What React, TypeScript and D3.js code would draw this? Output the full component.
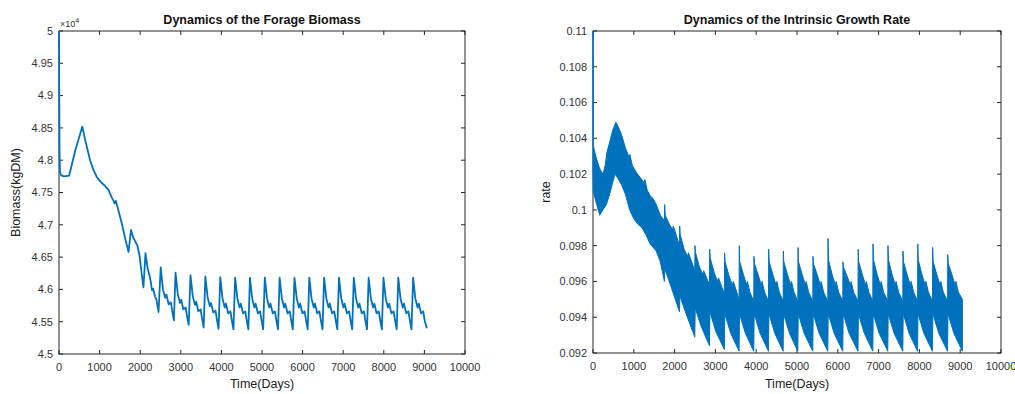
import * as d3 from "d3";

const width = 1015;
const height = 394;
const font = "'Liberation Sans', Arial, Helvetica, sans-serif";
const lineColor = "#0072BD";
const axisColor = "#262626";

// tick labels
const dayTicks = [0, 1000, 2000, 3000, 4000, 5000, 6000, 7000, 8000, 9000, 10000];
const biomassTicks = [4.5, 4.55, 4.6, 4.65, 4.7, 4.75, 4.8, 4.85, 4.9, 4.95, 5];
const rateTicks = [0.092, 0.094, 0.096, 0.098, 0.1, 0.102, 0.104, 0.106, 0.108, 0.11];

// forage biomass (x10^4 kgDM), [day, value]
const biomass: [number, number][] = [
  [0, 5.0], [6, 4.9], [14, 4.81], [25, 4.782], [45, 4.777], [120, 4.775], [250, 4.776],
  [400, 4.815], [575, 4.852], [650, 4.83], [765, 4.8], [850, 4.785], [930, 4.774],
  [1030, 4.766], [1136, 4.76], [1218, 4.754], [1300, 4.742], [1345, 4.737], [1370, 4.733],
  [1400, 4.737], [1440, 4.728], [1547, 4.702], [1640, 4.676], [1712, 4.658], [1775, 4.692],
  [1830, 4.68], [1880, 4.674], [1930, 4.668], [1985, 4.652], [2035, 4.625], [2080, 4.603], [2130, 4.656],
  [2185, 4.632], [2235, 4.62], [2265, 4.61], [2290, 4.599], [2320, 4.601], [2365, 4.589], [2400, 4.584], [2452, 4.565], [2505, 4.634],
  [2560, 4.6], [2615, 4.587], [2645, 4.592], [2700, 4.577], [2755, 4.58], [2790, 4.566], [2830, 4.552], [2870, 4.626],
  [2925, 4.593], [2980, 4.579], [3010, 4.584], [3065, 4.569], [3120, 4.572], [3155, 4.558], [3195, 4.545], [3238, 4.622],
  [3293, 4.59], [3348, 4.576], [3378, 4.581], [3433, 4.566], [3488, 4.569], [3523, 4.555], [3563, 4.541], [3605, 4.62],
  [3660, 4.588], [3715, 4.574], [3745, 4.579], [3800, 4.564], [3855, 4.567], [3890, 4.553], [3930, 4.539], [3972, 4.619],
  [4027, 4.586], [4082, 4.572], [4112, 4.578], [4167, 4.563], [4222, 4.566], [4257, 4.552], [4297, 4.538], [4338, 4.618],
  [4393, 4.586], [4448, 4.572], [4478, 4.578], [4533, 4.563], [4588, 4.566], [4623, 4.552], [4663, 4.538], [4703, 4.618],
  [4758, 4.586], [4813, 4.572], [4843, 4.578], [4898, 4.563], [4953, 4.566], [4988, 4.552], [5028, 4.538], [5069, 4.618],
  [5124, 4.586], [5179, 4.572], [5209, 4.578], [5264, 4.563], [5319, 4.566], [5354, 4.552], [5394, 4.538], [5434, 4.618],
  [5489, 4.586], [5544, 4.572], [5574, 4.578], [5629, 4.563], [5684, 4.566], [5719, 4.552], [5759, 4.538], [5800, 4.618],
  [5855, 4.586], [5910, 4.572], [5940, 4.578], [5995, 4.563], [6050, 4.566], [6085, 4.552], [6125, 4.538], [6165, 4.618],
  [6220, 4.586], [6275, 4.572], [6305, 4.578], [6360, 4.563], [6415, 4.566], [6450, 4.552], [6490, 4.538], [6530, 4.618],
  [6585, 4.586], [6640, 4.572], [6670, 4.578], [6725, 4.563], [6780, 4.566], [6815, 4.552], [6855, 4.538], [6896, 4.618],
  [6951, 4.586], [7006, 4.572], [7036, 4.578], [7091, 4.563], [7146, 4.566], [7181, 4.552], [7221, 4.538], [7261, 4.618],
  [7316, 4.586], [7371, 4.572], [7401, 4.578], [7456, 4.563], [7511, 4.566], [7546, 4.552], [7586, 4.538], [7627, 4.618],
  [7682, 4.586], [7737, 4.572], [7767, 4.578], [7822, 4.563], [7877, 4.566], [7912, 4.552], [7952, 4.538], [7992, 4.618],
  [8047, 4.586], [8102, 4.572], [8132, 4.578], [8187, 4.563], [8242, 4.566], [8277, 4.552], [8317, 4.538], [8357, 4.618],
  [8412, 4.586], [8467, 4.572], [8497, 4.578], [8552, 4.563], [8607, 4.566], [8642, 4.552], [8682, 4.538], [8722, 4.618],
  [8777, 4.586], [8832, 4.572], [8862, 4.578], [8917, 4.563], [8972, 4.566], [9007, 4.552], [9060, 4.54],
];

// intrinsic growth rate: upper edge of the oscillating band, [day, value]
const rateUpper: [number, number][] = [
  [0, 0.11], [5, 0.1036], [80, 0.1029], [165, 0.1023], [245, 0.102], [300, 0.1025], [340, 0.1032],
  [410, 0.1038], [490, 0.1045], [560, 0.1049], [610, 0.1047], [700, 0.1042], [790, 0.1035],
  [890, 0.1029], [905, 0.1031], [960, 0.1025], [1060, 0.1021], [1160, 0.1018], [1260, 0.1015],
  [1270, 0.1017], [1330, 0.1011], [1400, 0.1008], [1480, 0.1006], [1550, 0.1003], [1650, 0.0997], [1750, 0.0994],
  [1757, 0.1003], [1770, 0.0997], [1870, 0.0992], [1950, 0.0989], [1970, 0.0991], [2120, 0.098],
  [2125, 0.0991], [2138, 0.0986], [2235, 0.0978], [2315, 0.0974], [2340, 0.0976], [2495, 0.0966],
  [2500, 0.098], [2513, 0.0976], [2610, 0.0968], [2690, 0.0964], [2715, 0.0966], [2855, 0.0958],
  [2860, 0.0978], [2873, 0.0973], [2970, 0.0965], [3050, 0.096], [3075, 0.0962], [3220, 0.0953],
  [3225, 0.0976], [3238, 0.0971], [3335, 0.0963], [3415, 0.0958], [3440, 0.096], [3580, 0.095],
  [3585, 0.098], [3597, 0.0971], [3685, 0.0964], [3765, 0.0958], [3785, 0.096], [3845, 0.0954], [3940, 0.0949],
  [3945, 0.0974], [3957, 0.097], [4045, 0.0964], [4125, 0.0958], [4145, 0.096], [4205, 0.0954], [4301, 0.0949],
  [4306, 0.0978], [4318, 0.0971], [4406, 0.0964], [4486, 0.0958], [4506, 0.096], [4566, 0.0954], [4660, 0.0949],
  [4665, 0.0977], [4677, 0.0971], [4765, 0.0964], [4845, 0.0958], [4865, 0.096], [4925, 0.0954], [5020, 0.0949],
  [5025, 0.0979], [5037, 0.0971], [5125, 0.0964], [5205, 0.0958], [5225, 0.096], [5285, 0.0954], [5387, 0.0949],
  [5392, 0.0974], [5404, 0.097], [5492, 0.0964], [5572, 0.0958], [5592, 0.096], [5652, 0.0954], [5755, 0.0949],
  [5760, 0.0984], [5772, 0.0972], [5860, 0.0964], [5940, 0.0958], [5960, 0.096], [6020, 0.0954], [6122, 0.0949],
  [6127, 0.0971], [6139, 0.0968], [6227, 0.0963], [6307, 0.0958], [6327, 0.096], [6387, 0.0954], [6495, 0.0949],
  [6500, 0.0978], [6512, 0.0971], [6600, 0.0964], [6680, 0.0958], [6700, 0.096], [6760, 0.0954], [6858, 0.0949],
  [6863, 0.0981], [6875, 0.0972], [6963, 0.0964], [7043, 0.0958], [7063, 0.096], [7123, 0.0954], [7225, 0.0949],
  [7230, 0.098], [7242, 0.0972], [7330, 0.0964], [7410, 0.0958], [7430, 0.096], [7490, 0.0954], [7593, 0.0949],
  [7598, 0.0977], [7610, 0.0971], [7698, 0.0964], [7778, 0.0958], [7798, 0.096], [7858, 0.0954], [7955, 0.0949],
  [7960, 0.0981], [7972, 0.0972], [8060, 0.0964], [8140, 0.0958], [8160, 0.096], [8220, 0.0954], [8320, 0.0949],
  [8325, 0.0979], [8337, 0.0971], [8425, 0.0964], [8505, 0.0958], [8525, 0.096], [8585, 0.0954], [8690, 0.0949],
  [8695, 0.0975], [8707, 0.097], [8795, 0.0964], [8875, 0.0958], [8895, 0.096], [8955, 0.0954], [9054, 0.095],
];

// intrinsic growth rate: lower edge of the oscillating band, [day, value]
const rateLower: [number, number][] = [
  [0, 0.102], [10, 0.101], [80, 0.1004], [165, 0.0997], [240, 0.1], [330, 0.1003], [410, 0.1009],
  [490, 0.1016], [540, 0.102], [600, 0.1018], [700, 0.1014], [790, 0.1009], [900, 0.1], [1000, 0.0995],
  [1100, 0.0992], [1200, 0.099], [1300, 0.0986], [1400, 0.0981], [1550, 0.0977], [1650, 0.0971], [1750, 0.096],
  [1762, 0.0967], [1900, 0.0958], [2120, 0.0943],
  [2130, 0.0952], [2280, 0.0942], [2495, 0.0929],
  [2505, 0.0945], [2650, 0.0935], [2855, 0.0924],
  [2865, 0.0943], [3010, 0.0932], [3220, 0.0922],
  [3230, 0.0942], [3375, 0.0931], [3580, 0.0921],
  [3590, 0.0942], [3735, 0.0931], [3940, 0.0921],
  [3950, 0.0942], [4095, 0.0931], [4301, 0.0921],
  [4311, 0.0942], [4456, 0.0931], [4660, 0.0921],
  [4670, 0.0942], [4815, 0.0931], [5020, 0.0921],
  [5030, 0.0942], [5175, 0.0931], [5387, 0.0921],
  [5397, 0.0942], [5542, 0.0931], [5755, 0.0921],
  [5765, 0.0942], [5910, 0.0931], [6122, 0.0921],
  [6132, 0.0942], [6277, 0.0931], [6495, 0.0921],
  [6505, 0.0942], [6650, 0.0931], [6858, 0.0921],
  [6868, 0.0942], [7013, 0.0931], [7225, 0.0921],
  [7235, 0.0942], [7380, 0.0931], [7593, 0.0921],
  [7603, 0.0942], [7748, 0.0931], [7955, 0.0921],
  [7965, 0.0942], [8110, 0.0931], [8320, 0.0921],
  [8330, 0.0942], [8475, 0.0931], [8690, 0.0921],
  [8700, 0.0942], [8845, 0.0931], [9054, 0.0921],
];

type Box = { left: number; right: number; top: number; bottom: number };

const leftBox: Box = { left: 59, right: 465, top: 31, bottom: 354 };
const rightBox: Box = { left: 593, right: 1001, top: 31, bottom: 353 };

const fmt = (d: number) => String(+d.toFixed(3));

function Frame({
  box,
  x,
  y,
  yTicks,
  title,
  yLabel,
  yLabelX,
}: {
  box: Box;
  x: d3.ScaleLinear<number, number>;
  y: d3.ScaleLinear<number, number>;
  yTicks: number[];
  title: string;
  yLabel: string;
  yLabelX: number;
}) {
  const tick = 4;
  const cx = (box.left + box.right) / 2;
  return (
    <g fontFamily={font}>
      <rect
        x={box.left}
        y={box.top}
        width={box.right - box.left}
        height={box.bottom - box.top}
        fill="none"
        stroke={axisColor}
        strokeWidth={1}
      />
      {dayTicks.map((d) => (
        <g key={"x" + d}>
          <line x1={x(d)} x2={x(d)} y1={box.bottom} y2={box.bottom - tick} stroke={axisColor} />
          <line x1={x(d)} x2={x(d)} y1={box.top} y2={box.top + tick} stroke={axisColor} />
          <text x={x(d)} y={box.bottom + 17} textAnchor="middle" fontSize={11} fill="#333">
            {d}
          </text>
        </g>
      ))}
      {yTicks.map((d) => (
        <g key={"y" + d}>
          <line x1={box.left} x2={box.left + tick} y1={y(d)} y2={y(d)} stroke={axisColor} />
          <line x1={box.right} x2={box.right - tick} y1={y(d)} y2={y(d)} stroke={axisColor} />
          <text x={box.left - 6} y={y(d)} dy="0.35em" textAnchor="end" fontSize={11} fill="#333">
            {fmt(d)}
          </text>
        </g>
      ))}
      <text x={cx} y={24} textAnchor="middle" fontSize={12.5} fontWeight="bold" fill="#111">
        {title}
      </text>
      <text x={cx} y={388} textAnchor="middle" fontSize={12.5} fill="#222">
        Time(Days)
      </text>
      <text
        transform={`translate(${yLabelX},${(box.top + box.bottom) / 2}) rotate(-90)`}
        textAnchor="middle"
        fontSize={12.5}
        fill="#222"
      >
        {yLabel}
      </text>
    </g>
  );
}

export default function App() {
  const xL = d3.scaleLinear().domain([0, 10000]).range([leftBox.left, leftBox.right]);
  const yL = d3.scaleLinear().domain([4.5, 5]).range([leftBox.bottom, leftBox.top]);
  const xR = d3.scaleLinear().domain([0, 10000]).range([rightBox.left, rightBox.right]);
  const yR = d3.scaleLinear().domain([0.092, 0.11]).range([rightBox.bottom, rightBox.top]);

  const biomassPath = d3
    .line<[number, number]>()
    .x((d) => xL(d[0]))
    .y((d) => yL(d[1]))(biomass);

  // band polygon: upper edge forward, lower edge back
  const band = [...rateUpper, ...[...rateLower].reverse()];
  const ratePath =
    d3
      .line<[number, number]>()
      .x((d) => xR(d[0]))
      .y((d) => yR(d[1]))(band) + "Z";

  return (
    <svg
      width={width}
      height={height}
      style={{ position: "absolute", left: 0, top: 0, background: "#fff" }}
    >
      <defs>
        <clipPath id="clipL">
          <rect x={leftBox.left - 2} y={leftBox.top - 1} width={leftBox.right - leftBox.left + 2} height={leftBox.bottom - leftBox.top + 1} />
        </clipPath>
        <clipPath id="clipR">
          <rect x={rightBox.left - 2} y={rightBox.top - 1} width={rightBox.right - rightBox.left + 2} height={rightBox.bottom - rightBox.top + 1} />
        </clipPath>
      </defs>

      <Frame
        box={leftBox}
        x={xL}
        y={yL}
        yTicks={biomassTicks}
        title="Dynamics of the Forage Biomass"
        yLabel="Biomass(kgDM)"
        yLabelX={20}
      />
      <Frame
        box={rightBox}
        x={xR}
        y={yR}
        yTicks={rateTicks}
        title="Dynamics of the Intrinsic Growth Rate"
        yLabel="rate"
        yLabelX={550}
      />

      <path
        d={biomassPath ?? ""}
        fill="none"
        stroke={lineColor}
        strokeWidth={1.8}
        strokeLinejoin="round"
        clipPath="url(#clipL)"
      />
      <path
        d={ratePath}
        fill={lineColor}
        stroke={lineColor}
        strokeWidth={1}
        strokeLinejoin="round"
        clipPath="url(#clipR)"
      />

      <text x={60} y={27} fontFamily={font} fontSize={9} fill="#333">
        ×10
        <tspan fontSize={7} dy={-4}>
          4
        </tspan>
      </text>
    </svg>
  );
}
